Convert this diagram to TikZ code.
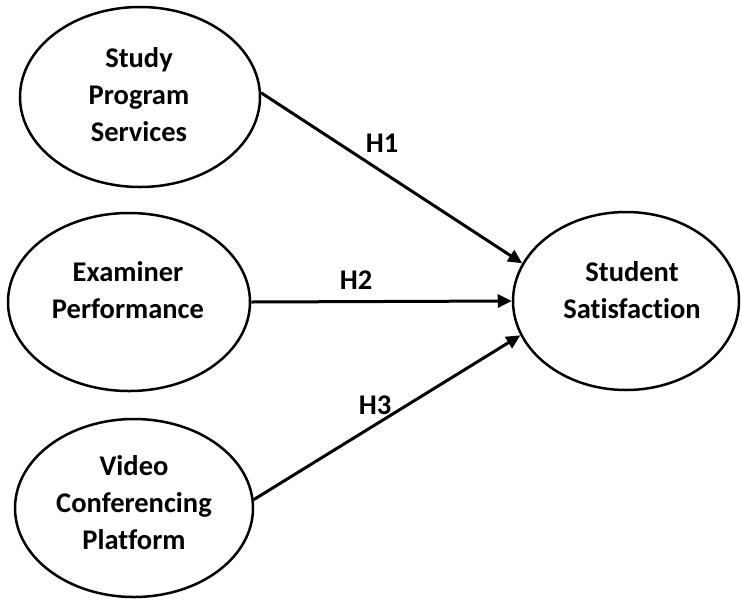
\documentclass[tikz,border=0pt]{standalone}
\usepackage{fontspec}
\setmainfont{Carlito}[Ligatures={NoCommon}]
\usetikzlibrary{shapes.geometric,arrows.meta}
\begin{document}
\begin{tikzpicture}[x=1pt,y=-1pt,
  construct/.style={ellipse,draw,line width=2.5pt,inner sep=0pt},
  caption/.style={font=\bfseries\fontsize{28.5}{37}\selectfont,align=center,inner sep=0pt},
  hyp/.style={line width=3pt,-{Triangle[length=14pt,width=13pt]}},
  hlabel/.style={font=\bfseries\fontsize{28.5}{30}\selectfont,inner sep=0pt}
]
\useasboundingbox (0,0) rectangle (741,598);

% latent constructs
\node[construct,minimum width=240pt,minimum height=180pt] (sps) at (140,97) {};
\node[construct,minimum width=242pt,minimum height=178pt] (ep)  at (129,302) {};
\node[construct,minimum width=238pt,minimum height=178pt] (vcp) at (134,508) {};
\node[construct,minimum width=226pt,minimum height=178pt] (ss)  at (626,301) {};

% construct names
\node[caption] (sps-t) at (139,95)  {Study\\Program\\Services};
\node[caption] (ep-t)  at (128,290) {Examiner\\Performance};
\node[caption] (vcp-t) at (134,503) {Video\\Conferencing\\Platform};
\node[caption] (ss-t)  at (632,290) {Student\\Satisfaction};

% hypothesised paths
\draw[hyp] (sps.2) -- (ss.160);
\draw[hyp] (ep.east) -- (ss.west);
\draw[hyp] (vcp.4) -- (ss.198);

% path labels
\node[hlabel] (h1) at (382,143) {H1};
\node[hlabel] (h2) at (356,280) {H2};
\node[hlabel] (h3) at (375,405) {H3};
\end{tikzpicture}
\end{document}
